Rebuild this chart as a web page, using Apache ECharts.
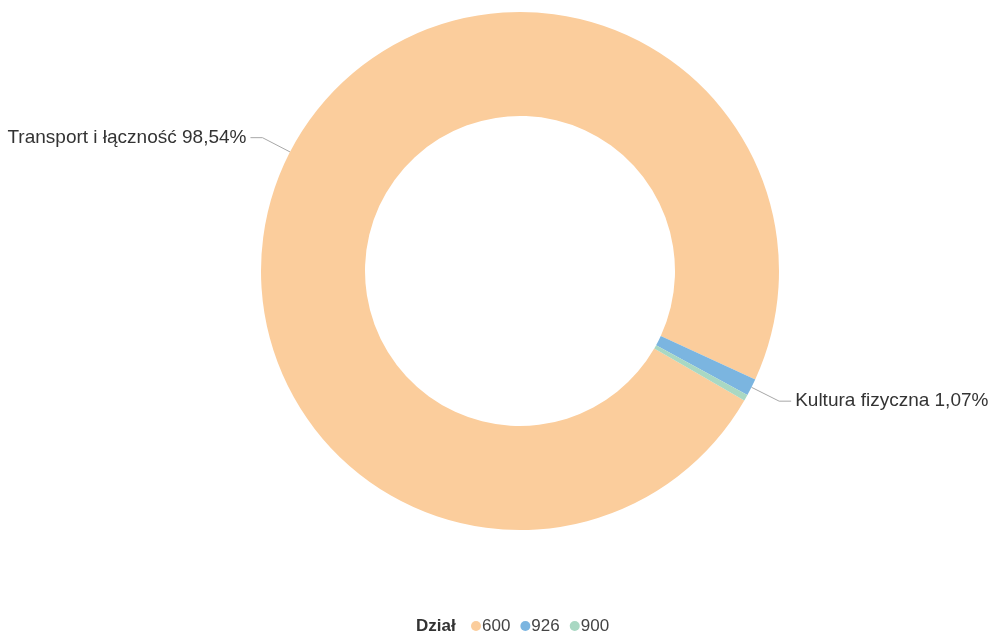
<!DOCTYPE html>
<html>
<head>
<meta charset="utf-8">
<script src="https://cdn.jsdelivr.net/npm/echarts@6/dist/echarts.min.js"></script>
<style>
html,body{margin:0;padding:0;background:#fff;}
#chart{width:988px;height:637px;}
</style>
</head>
<body>
<div id="chart"></div>
<script>
const codes = ['600', '926', '900'];
const names = ['Transport i łączność', 'Kultura fizyczna', 'Gospodarka komunalna i ochrona środowiska'];
const values = [98.54, 1.07, 0.39];
const colors = ['#FBCD9C', '#7BB5E0', '#A9D8C3'];
const legendTitle = 'Dział';

const FONT = '"Liberation Sans", Arial, Helvetica, sans-serif';
const chart = echarts.init(document.getElementById('chart'));
chart.setOption({
  animation: false,
  backgroundColor: '#ffffff',
  color: colors,
  title: {
    text: legendTitle,
    left: 416,
    top: 616,
    padding: 0,
    textStyle: { fontFamily: FONT, fontSize: 17, fontWeight: 'bold', color: '#333333', lineHeight: 20 }
  },
  legend: {
    data: codes,
    left: 471,
    top: 616,
    padding: 0,
    icon: 'circle',
    itemWidth: 10,
    itemHeight: 10,
    itemGap: 10,
    textStyle: { fontFamily: FONT, fontSize: 17, color: '#444444', padding: [0, 0, 0, -4], lineHeight: 20 }
  },
  series: [{
    type: 'pie',
    center: [520, 271],
    radius: [155, 259],
    startAngle: -30,
    clockwise: true,
    minShowLabelAngle: 2,
    avoidLabelOverlap: false,
    itemStyle: { borderWidth: 0 },
    label: {
      show: true,
      position: 'outside',
      fontFamily: FONT,
      fontSize: 19,
      color: '#333333',
      distanceToLabelLine: 4,
      formatter: function (p) {
        return names[p.dataIndex] + ' ' + p.percent.toFixed(2).replace('.', ',') + '%';
      }
    },
    labelLine: {
      show: true,
      length: 31,
      length2: 12,
      lineStyle: { color: '#a8a8a8', width: 1 }
    },
    data: codes.map(function (c, i) { return { name: c, value: values[i] }; })
  }]
});
</script>
</body>
</html>
